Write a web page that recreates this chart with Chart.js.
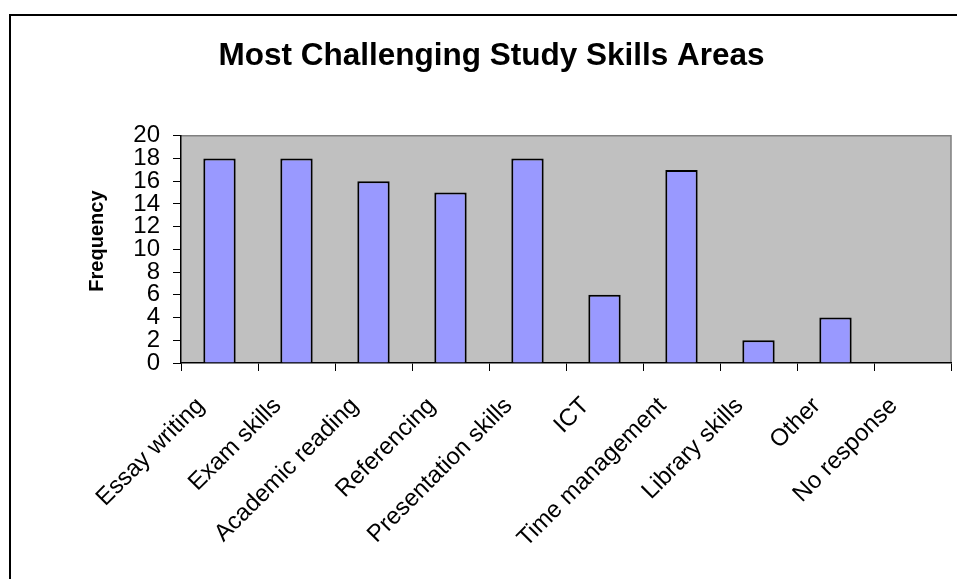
<!DOCTYPE html>
<html>
<head>
<meta charset="utf-8">
<script src="https://cdn.jsdelivr.net/npm/chart.js@4"></script>
<style>
  html, body { margin: 0; padding: 0; background: #fff; }
  #wrap { width: 957px; height: 579px; }
</style>
</head>
<body>
<div id="wrap"><canvas id="chart" width="957" height="579"></canvas></div>
<script>
'use strict';

const categories = ['Essay writing', 'Exam skills', 'Academic reading', 'Referencing',
  'Presentation skills', 'ICT', 'Time management', 'Library skills', 'Other', 'No response'];
const frequency = [18, 18, 16, 15, 18, 6, 17, 2, 4, 0];
const yTicks = [0, 2, 4, 6, 8, 10, 12, 14, 16, 18, 20];

const FONT = "'Liberation Sans', Arial, sans-serif";

// grey plot area + outer frame, drawn before the bars
const backdrop = {
  id: 'backdrop',
  beforeDraw(chart) {
    const { ctx, chartArea: a } = chart;
    ctx.save();
    ctx.fillStyle = '#fff';
    ctx.fillRect(0, 0, chart.width, chart.height);
    ctx.strokeStyle = '#000';
    ctx.lineWidth = 2;
    ctx.strokeRect(10, 15, chart.width + 20, chart.height + 20);
    ctx.fillStyle = '#c0c0c0';
    ctx.fillRect(a.left, a.top, a.right - a.left, a.bottom - a.top);
    ctx.strokeStyle = '#808080';
    ctx.lineWidth = 1.5;
    ctx.beginPath();
    ctx.moveTo(a.left, a.top);
    ctx.lineTo(a.right, a.top);
    ctx.lineTo(a.right, a.bottom);
    ctx.stroke();
    ctx.restore();
  }
};

new Chart(document.getElementById('chart'), {
  type: 'bar',
  data: {
    labels: categories,
    datasets: [{
      label: 'Frequency',
      data: frequency,
      backgroundColor: '#9999ff',
      borderColor: '#000',
      borderWidth: 2,
      barPercentage: 0.42,
      categoryPercentage: 1,
    }],
  },
  options: {
    responsive: false,
    animation: false,
    devicePixelRatio: 1,
    layout: { padding: { left: 32, right: 6, top: 0, bottom: 0 } },
    plugins: {
      legend: { display: false },
      tooltip: { enabled: false },
      title: {
        display: true,
        text: 'Most Challenging Study Skills Areas',
        color: '#000',
        font: { family: FONT, size: 31.5, weight: 'bold' },
        padding: { top: 37, bottom: 61 },
      },
    },
    scales: {
      x: {
        grid: { drawOnChartArea: false, drawTicks: true, tickLength: 8, color: '#000', offset: true },
        border: { display: true, color: '#000', width: 1.5 },
        ticks: {
          color: '#000',
          font: { family: FONT, size: 24 },
          minRotation: 45,
          maxRotation: 45,
          autoSkip: false,
          padding: 2,
          // trailing gap pushes the rotated label down-left of the tick, as in the original
          callback(v) { return this.getLabelForValue(v) + '    '; },
        },
        afterFit: (s) => { s.height = 216; },
      },
      y: {
        min: 0,
        max: 20,
        afterBuildTicks: (s) => { s.ticks = yTicks.map(v => ({ value: v })); },
        grid: { drawOnChartArea: false, drawTicks: true, tickLength: 8, color: '#000' },
        border: { display: true, color: '#000', width: 1.5 },
        ticks: {
          color: '#000',
          font: { family: FONT, size: 24, lineHeight: 1 },
          padding: 13,
          autoSkip: false,
        },
        title: {
          display: true,
          text: '   Frequency',
          color: '#000',
          font: { family: FONT, size: 20, weight: 'bold' },
          padding: { top: 53, bottom: 0 },
        },
        afterFit: (s) => { s.width = 149; },
      },
    },
  },
  plugins: [backdrop],
});
</script>
</body>
</html>
